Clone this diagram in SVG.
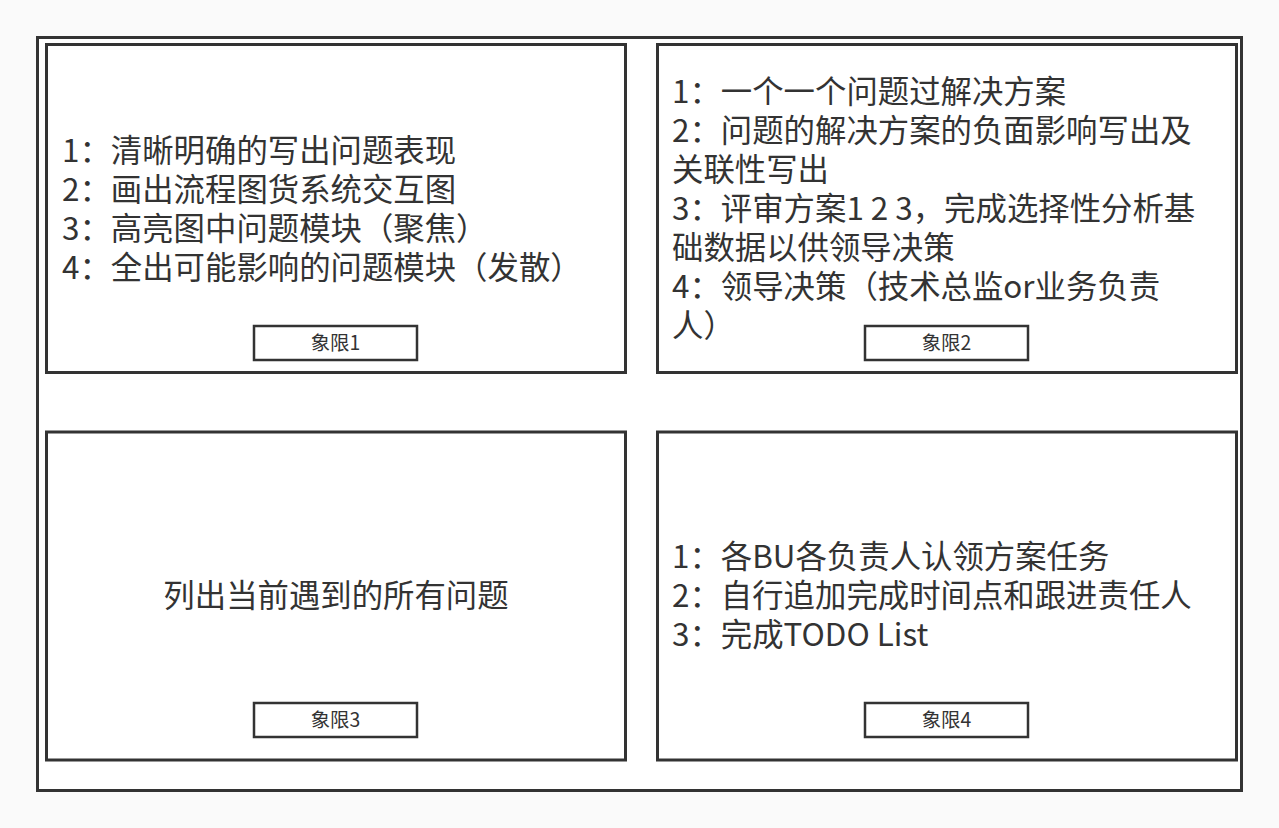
<svg xmlns="http://www.w3.org/2000/svg" width="1279" height="828" viewBox="0 0 1279 828">
<style>
.frame{fill:#ffffff;stroke:#333333;stroke-width:3}
.box{fill:#ffffff;stroke:#333333;stroke-width:3}
.lbl{fill:#ffffff;stroke:#333333;stroke-width:2.5}
.t{font-family:"Noto Sans CJK SC","Noto Sans",sans-serif;font-size:31.4px;fill:#333333}
.s{font-family:"Noto Sans CJK SC","Noto Sans",sans-serif;font-size:19.4px;fill:#333333;text-anchor:middle}
</style>
<rect x="0" y="0" width="1279" height="828" fill="#fafafa"/>
<rect class="frame" x="37.5" y="37.5" width="1204" height="753"/>
<g id="q1">
<rect class="box" x="46.5" y="44.5" width="579" height="328"/>
<text class="t" x="62" y="162">1：清晰明确的写出问题表现</text>
<text class="t" x="62" y="201">2：画出流程图货系统交互图</text>
<text class="t" x="62" y="240">3：高亮图中问题模块（聚焦）</text>
<text class="t" x="62" y="279">4：全出可能影响的问题模块（发散）</text>
<rect class="lbl" x="254" y="326" width="163" height="34"/>
<text class="s" x="335.5" y="350">象限1</text>
</g>
<g id="q2">
<rect class="box" x="657.5" y="44.5" width="579" height="328"/>
<text class="t" x="672" y="103">1：一个一个问题过解决方案</text>
<text class="t" x="672" y="142">2：问题的解决方案的负面影响写出及</text>
<text class="t" x="672" y="181">关联性写出</text>
<text class="t" x="672" y="220">3：评审方案1 2 3，完成选择性分析基</text>
<text class="t" x="672" y="259">础数据以供领导决策</text>
<text class="t" x="672" y="298">4：领导决策（技术总监or业务负责</text>
<text class="t" x="672" y="337">人）</text>
<rect class="lbl" x="865" y="326" width="163" height="34"/>
<text class="s" x="946.5" y="350">象限2</text>
</g>
<g id="q3">
<rect class="box" x="46.5" y="432" width="579" height="328"/>
<text class="t" x="336" y="607" text-anchor="middle">列出当前遇到的所有问题</text>
<rect class="lbl" x="254" y="703" width="163" height="34"/>
<text class="s" x="335.5" y="727">象限3</text>
</g>
<g id="q4">
<rect class="box" x="657.5" y="432" width="579" height="328"/>
<text class="t" x="672" y="568">1：各BU各负责人认领方案任务</text>
<text class="t" x="672" y="607">2：自行追加完成时间点和跟进责任人</text>
<text class="t" x="672" y="646">3：完成TODO List</text>
<rect class="lbl" x="865" y="703" width="163" height="34"/>
<text class="s" x="946.5" y="727">象限4</text>
</g>
<g id="connectors"></g>
</svg>
